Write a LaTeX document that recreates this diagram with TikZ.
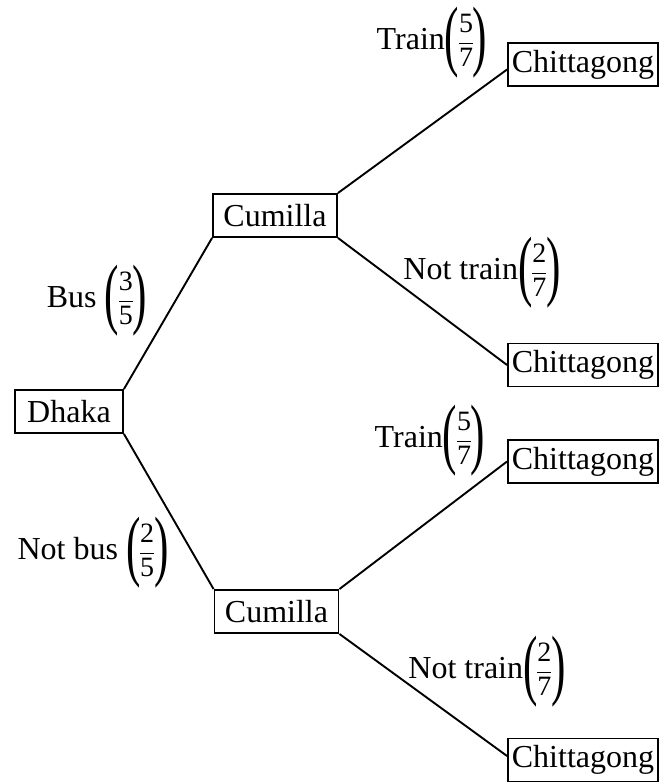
\documentclass[tikz,border=0pt]{standalone}
\usepackage{fontspec}
\usepackage{graphicx}
\setmainfont{Liberation Serif}
% stretched text bracket, centred on the maths axis
\newcommand{\tallbr}[1]{\vcenter{\hbox{\scalebox{1.35}[2.45]{#1}}}}
% probability fraction in tall round brackets
\newcommand{\pfrac}[2]{$\tallbr{(}\mkern-1mu\displaystyle\frac{\mbox{\fontsize{28}{30}\selectfont#1}}{\mbox{\fontsize{28}{30}\selectfont#2}}\mkern-1mu\tallbr{)}$}
\begin{document}
\begin{tikzpicture}[x=1pt,y=-1pt,
  place/.style={draw, line width=1.9pt, inner sep=0pt, font=\fontsize{32}{36}\selectfont},
  prob/.style={inner sep=0pt, font=\fontsize{32}{36}\selectfont},
  branch/.style={line width=1.9pt}]
\useasboundingbox (0,0) rectangle (662,782);
\fill[white] (0,0) rectangle (662,782);

% towns
\node[place, minimum width=108pt, minimum height=43pt] (dhaka) at (69,411.5) {Dhaka};
\node[place, minimum width=124pt, minimum height=43pt] (cumA) at (275,215.5) {Cumilla};
\node[place, minimum width=124pt, minimum height=43pt] (cumB) at (276.5,611.5) {Cumilla};
\node[place, minimum width=150pt, minimum height=43pt] (chA) at (583,64.5) {Chittagong};
\node[place, minimum width=150pt, minimum height=43pt] (chB) at (583,365) {Chittagong};
\node[place, minimum width=150pt, minimum height=43pt] (chC) at (583,461.5) {Chittagong};
\node[place, minimum width=150pt, minimum height=43pt] (chD) at (583,760) {Chittagong};

% branches
\draw[branch] (dhaka.north east) -- (cumA.south west);
\draw[branch] (dhaka.south east) -- (cumB.north west);
\draw[branch] (cumA.north east) -- ([yshift=-5pt]chA.west);
\draw[branch] (cumA.south east) -- (chB.west);
\draw[branch] (cumB.north east) -- (chC.west);
\draw[branch] (cumB.south east) -- ([yshift=4pt]chD.west);

% probabilities
\node[prob] (pbus)  at (97,301)  {Bus \pfrac{3}{5}};
\node[prob] (pnbus) at (93,553)  {Not bus \pfrac{2}{5}};
\node[prob] (ptA)   at (432,43)  {Train\pfrac{5}{7}};
\node[prob] (pntA)  at (482,273) {Not train\pfrac{2}{7}};
\node[prob] (ptB)   at (430,441) {Train\pfrac{5}{7}};
\node[prob] (pntB)  at (487,672) {Not train\pfrac{2}{7}};
\end{tikzpicture}
\end{document}
